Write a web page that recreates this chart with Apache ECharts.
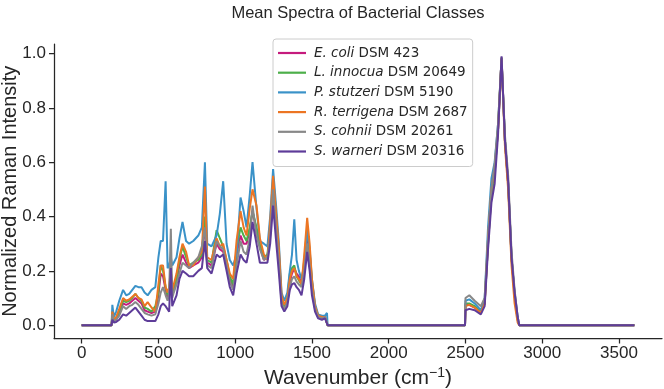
<!DOCTYPE html>
<html><head><meta charset="utf-8">
<script src="https://cdn.jsdelivr.net/npm/echarts@6/dist/echarts.min.js"></script>
<style>html,body{margin:0;padding:0;background:#fff}#c{width:664px;height:389px}</style>
</head><body><div id="c"></div>
<script>
const wavenumbers = [0,195,200,210,225,245,270,290,310,330,350,370,390,410,430,455,480,500,515,530,547,560,570,581,590,600,618,637,657,680,700,727,760,783,803,818,846,879,900,922,944,965,987,1009,1035,1055,1074,1095,1113,1139,1161,1187,1210,1228,1247,1265,1285,1302,1320,1340,1356,1370,1385,1400,1415,1432,1450,1469,1485,1500,1520,1540,1565,1585,1598,1602,2497,2500,2525,2560,2600,2625,2647,2669,2690,2712,2735,2757,2778,2800,2820,2840,2850,3600];

const eColi = [0,0,.03,.015,.02,.045,.08,.075,.08,.09, .10,.09,.08,.055,.05,.045,.05,.11,.19,.18, .13,.10,.12,.18,.12,.13,.16,.22,.26,.23, .21,.22,.23,.25,.37,.23,.22,.30,.28,.27, .22,.17,.14,.26,.33,.30,.30,.35,.42,.35, .29,.24,.25,.35,.50,.38,.25,.09,.065,.09, .16,.19,.21,.19,.18,.15,.22,.34,.26,.15, .065,.03,.03,.03,.035,0,0,.075,.075,.065, .045,.08,.30,.48,.56,.72,.985,.68,.52,.25, .11,.02,0,0];
const lInnocua = [0,0,.03,.015,.025,.05,.09,.085,.09,.10, .115,.10,.09,.065,.06,.05,.07,.12,.22,.20, .14,.11,.13,.20,.12,.14,.17,.24,.29,.25, .22,.23,.24,.26,.40,.24,.23,.35,.32,.29, .24,.18,.15,.28,.36,.33,.31,.36,.42,.36, .30,.25,.26,.36,.52,.40,.26,.10,.07,.10, .19,.21,.22,.18,.165,.15,.24,.36,.27,.16, .07,.035,.03,.03,.035,0,0,.08,.08,.07, .05,.08,.30,.48,.56,.72,.985,.68,.52,.25, .11,.02,0,0];
const pStutzeri = [0,0,.075,.03,.05,.09,.13,.11,.115,.13, .145,.14,.14,.12,.11,.13,.14,.25,.31,.31, .53,.21,.22,.25,.22,.23,.25,.32,.38,.31, .30,.31,.33,.36,.60,.30,.29,.33,.41,.53, .30,.24,.22,.26,.47,.42,.36,.48,.60,.43, .31,.30,.29,.40,.575,.45,.30,.12,.09,.12, .20,.26,.39,.24,.20,.17,.22,.35,.28,.17, .08,.04,.035,.035,.045,0,0,.09,.095,.08, .055,.10,.36,.54,.60,.74,.98,.68,.52,.24, .12,.03,0,0];
const rTerrigena = [0,0,.05,.02,.03,.06,.10,.09,.095,.105, .115,.10,.095,.07,.085,.065,.05,.15,.22,.22, .14,.12,.14,.21,.13,.15,.19,.25,.30,.27, .22,.22,.25,.27,.51,.25,.24,.32,.29,.30, .24,.19,.17,.31,.42,.36,.33,.43,.50,.44, .32,.26,.24,.38,.55,.42,.28,.11,.075,.10, .17,.20,.21,.18,.17,.15,.26,.395,.30,.17, .07,.035,.03,.03,.035,0,0,.07,.075,.065, .045,.08,.32,.50,.58,.72,.98,.66,.50,.22, .08,.01,0,0];
const sCohnii = [0,0,.04,.015,.02,.035,.07,.06,.07,.075, .085,.075,.06,.045,.04,.035,.04,.08,.12,.14, .11,.09,.12,.355,.10,.12,.15,.19,.23,.22, .21,.23,.25,.29,.36,.22,.21,.31,.29,.28, .22,.16,.13,.22,.31,.27,.26,.32,.44,.33, .28,.24,.25,.33,.50,.37,.23,.08,.06,.085, .14,.17,.18,.16,.15,.14,.20,.30,.22,.13, .06,.03,.025,.03,.035,0,0,.10,.11,.09, .07,.10,.32,.50,.59,.74,.98,.70,.55,.27, .13,.03,0,0];
const sWarneri = [0,0,.02,.01,.012,.02,.04,.035,.045,.055, .065,.05,.035,.02,.015,.015,.015,.04,.07,.08, .07,.07,.05,.21,.07,.07,.11,.17,.20,.19, .18,.18,.20,.21,.31,.21,.19,.26,.25,.26, .20,.14,.11,.19,.26,.24,.23,.29,.38,.30, .23,.23,.23,.30,.44,.32,.19,.07,.05,.07, .13,.15,.155,.14,.13,.11,.17,.27,.20,.11, .05,.025,.02,.025,.03,0,0,.055,.06,.055, .04,.07,.28,.45,.52,.70,.99,.68,.53,.25, .12,.03,0,0];

const seriesNames = ['E. coli DSM 423','L. innocua DSM 20649','P. stutzeri DSM 5190','R. terrigena DSM 2687','S. cohnii DSM 20261','S. warneri DSM 20316'];
const seriesValues = [eColi, lInnocua, pStutzeri, rTerrigena, sCohnii, sWarneri];
const seriesColors = ['#c51b7d','#4daf4a','#3a92c8','#ec7523','#888888','#5e3c99'];
const xTicks = [0,500,1000,1500,2000,2500,3000,3500];
const yTicks = [0,0.2,0.4,0.6,0.8,1.0];

const AX = '#262626';
const FONT = "'Liberation Sans', Arial, sans-serif";
const chart = echarts.init(document.getElementById('c'), null, {renderer:'canvas'});
chart.setOption({
  animation: false,
  backgroundColor: '#fff',
  title: {
    text: 'Mean Spectra of Bacterial Classes',
    left: 358, textAlign: 'center', top: 5, padding: 0,
    textStyle: {fontFamily: FONT, fontSize: 16.5, fontWeight: 'normal', color: AX}
  },
  legend: {
    orient: 'vertical', left: 273, top: 39,
    padding: [7, 5, 8, 5],
    icon: 'rect',
    itemWidth: 28, itemHeight: 2.2, itemGap: 5.7,
    borderColor: '#cccccc', borderWidth: 1, borderRadius: 3,
    backgroundColor: 'rgba(255,255,255,0.8)',
    data: seriesNames,
    formatter: function (name) {
      const m = name.match(/^(\S+ \S+) (.*)$/);
      return '{i|' + m[1] + '} ' + m[2];
    },
    textStyle: {
      fontFamily: 'DejaVu Sans', fontSize: 13.5, lineHeight: 14, color: AX, padding: [0,0,0,3],
      rich: {i: {fontFamily: 'DejaVu Sans', fontSize: 13.5, lineHeight: 14, fontStyle: 'italic', color: AX}}
    }
  },
  grid: {left: 54, right: 2, top: 44, bottom: 50.5, containLabel: false, outerBoundsMode: 'none'},
  xAxis: {
    type: 'value', min: -180, max: 3780,
    name: 'Wavenumber (cm{sup|\u22121})', nameLocation: 'middle', nameGap: 28, nameMoveOverlap: false,
    nameTextStyle: {fontFamily: FONT, fontSize: 21, color: AX, lineHeight: 24, verticalAlign: 'top',
      rich: {sup: {fontFamily: FONT, fontSize: 14, lineHeight: 14, verticalAlign: 'top', color: AX}}},
    axisLine: {show: true, onZero: false, lineStyle: {color: AX, width: 1.25}},
    axisTick: {show: true, inside: false, length: 5, customValues: xTicks, lineStyle: {color: AX, width: 1.25}},
    axisLabel: {customValues: xTicks, fontFamily: FONT, fontSize: 17, color: AX, margin: 6,
      formatter: v => String(v)},
    splitLine: {show: false}
  },
  yAxis: {
    type: 'value', min: -0.049, max: 1.035,
    name: 'Normalized Raman Intensity', nameLocation: 'middle', nameGap: 34, nameMoveOverlap: false,
    nameTextStyle: {fontFamily: FONT, fontSize: 20, color: AX},
    axisLine: {show: true, onZero: false, lineStyle: {color: AX, width: 1.25}},
    axisTick: {show: true, inside: false, length: 5, customValues: yTicks, lineStyle: {color: AX, width: 1.25}},
    axisLabel: {customValues: yTicks, fontFamily: FONT, fontSize: 17, color: AX, margin: 8,
      formatter: v => v.toFixed(1)},
    splitLine: {show: false}
  },
  series: seriesNames.map((n, k) => ({
    name: n, type: 'line', showSymbol: false, symbol: 'none',
    color: seriesColors[k],
    lineStyle: {width: 2, color: seriesColors[k]},
    data: wavenumbers.map((x, i) => [x, seriesValues[k][i]]),
    z: 2 + k
  }))
});
</script></body></html>
